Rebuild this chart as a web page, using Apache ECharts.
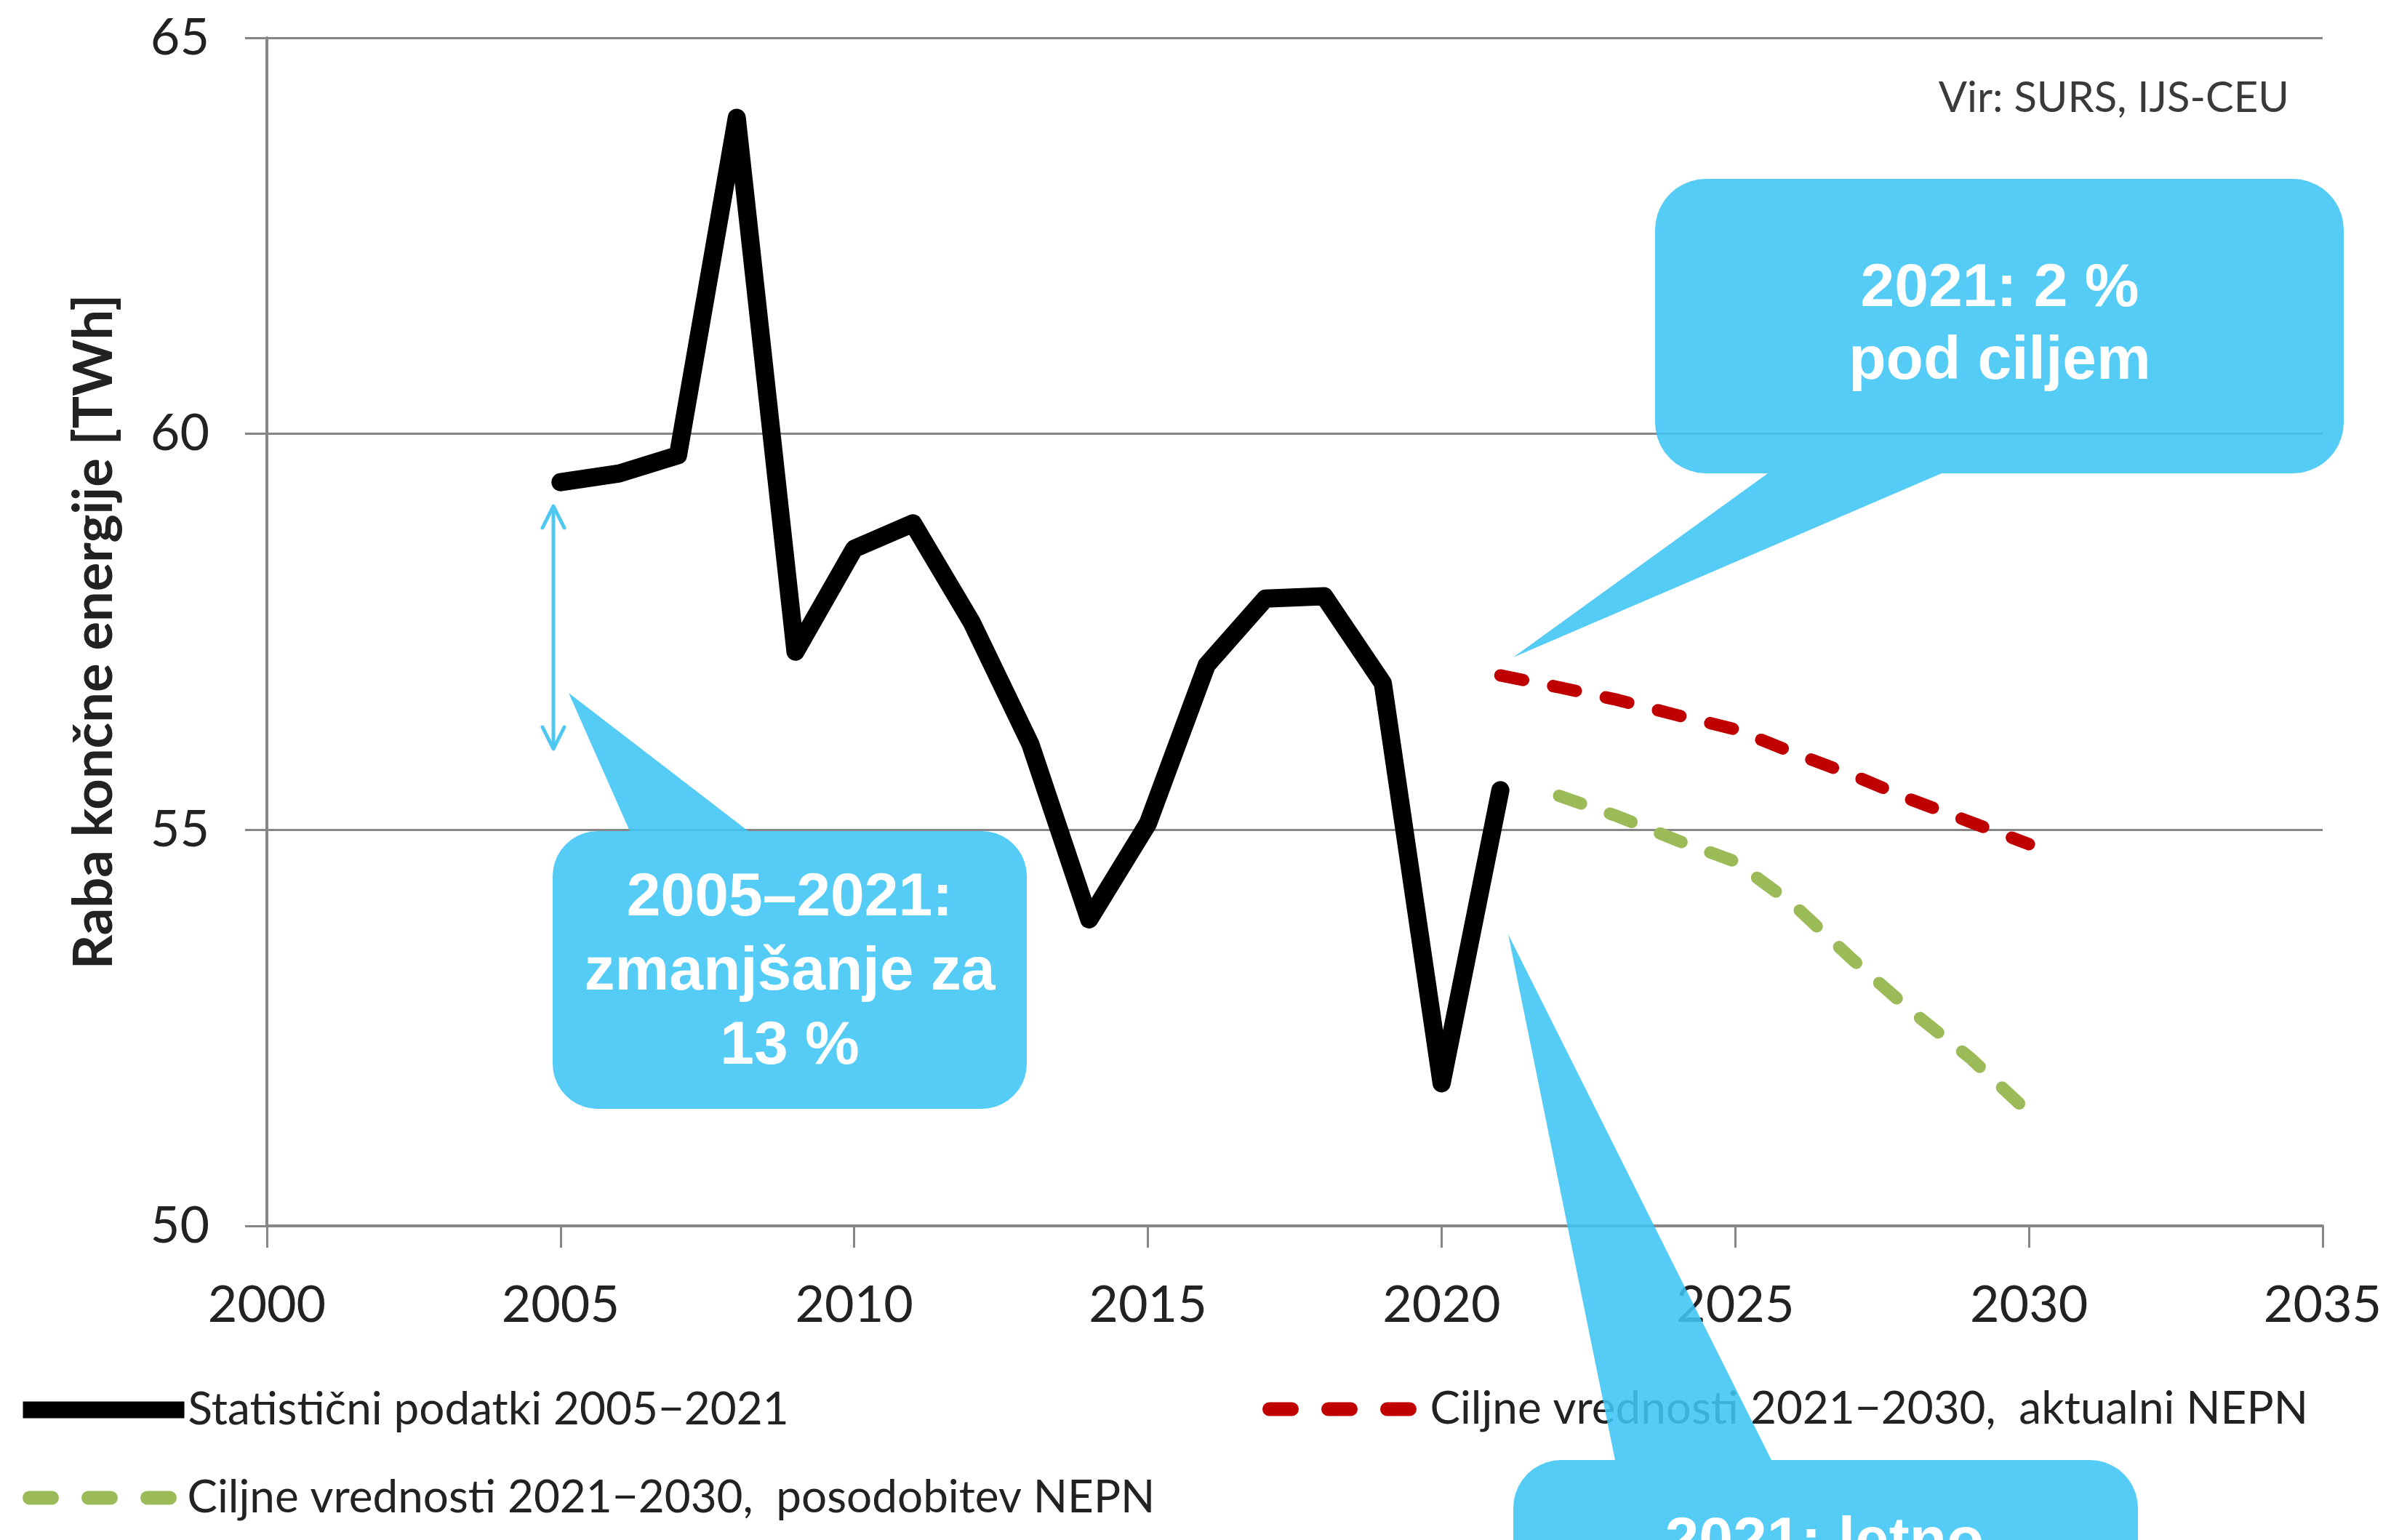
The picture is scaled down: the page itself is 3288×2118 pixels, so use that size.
<!DOCTYPE html>
<html>
<head>
<meta charset="utf-8">
<script src="https://cdn.jsdelivr.net/npm/echarts@6/dist/echarts.min.js"></script>
<style>
html,body{margin:0;padding:0;background:#ffffff;}
#chart{width:3288px;height:2118px;}
</style>
</head>
<body>
<div id="chart"></div>
<script>
// ---------- data ----------
const seriesNames = [
  'Statistični podatki 2005−2021',
  'Ciljne vrednosti 2021−2030,  aktualni NEPN',
  'Ciljne vrednosti 2021−2030,  posodobitev NEPN'
];
const statYears  = [2005,2006,2007,2008,2009,2010,2011,2012,2013,2014,2015,2016,2017,2018,2019,2020,2021];
const statValues = [59.39,59.50,59.73,63.99,57.25,58.55,58.87,57.62,56.08,53.87,55.08,57.08,57.92,57.95,56.85,51.80,55.50];
const aktYears   = [2021,2022,2023,2024,2025,2026,2027,2028,2029,2030];
const aktValues  = [56.95,56.80,56.64,56.45,56.27,55.97,55.69,55.38,55.10,54.82];
const posYears   = [2022,2023,2024,2025,2026,2027,2028,2029,2030];
const posValues  = [55.43,55.17,54.87,54.60,54.05,53.36,52.71,52.12,51.43];
const xTickLabels = ['2000','2005','2010','2015','2020','2025','2030','2035'];
const yTickLabels = ['50','55','60','65'];
const yAxisName = 'Raba končne energije [TWh]';
const sourceText = 'Vir: SURS, IJS-CEU';
const calloutTexts = ['2021: 2 %\npod ciljem', '2005–2021:\nzmanjšanje za\n13 %', '2021: letno'];

// ---------- helpers ----------
const pairs = (xs, vs) => xs.map((x, i) => [x, vs[i]]);
const xMin = +xTickLabels[0], xMax = +xTickLabels[xTickLabels.length - 1];
const xStep = +xTickLabels[1] - +xTickLabels[0];
const yMin = +yTickLabels[0], yMax = +yTickLabels[yTickLabels.length - 1];
const yStep = +yTickLabels[1] - +yTickLabels[0];

function calloutPoints(x0, y0, x1, y1, r, side, b0, b1, tx, ty) {
  const pts = [];
  const arc = (cx, cy, a0, a1) => {
    for (let i = 0; i <= 10; i++) {
      const a = a0 + (a1 - a0) * i / 10;
      pts.push([cx + r * Math.cos(a), cy + r * Math.sin(a)]);
    }
  };
  arc(x0 + r, y0 + r, Math.PI, 1.5 * Math.PI);
  if (side === 'top') pts.push([b0, y0], [tx, ty], [b1, y0]);
  arc(x1 - r, y0 + r, 1.5 * Math.PI, 2 * Math.PI);
  arc(x1 - r, y1 - r, 0, 0.5 * Math.PI);
  if (side === 'bottom') pts.push([b1, y1], [tx, ty], [b0, y1]);
  arc(x0 + r, y1 - r, 0.5 * Math.PI, Math.PI);
  return pts;
}

const GREY = '#878787';
const FONT = 'Lato';
const CALLOUT_FILL = 'rgba(62,197,244,0.88)';
const CALLOUT_FONT = 'bold 84px "Liberation Sans", Arial, sans-serif';
const ARROW = '#4EC8F0';

const chart = echarts.init(document.getElementById('chart'), null, {renderer: 'canvas'});

const legendText = {fontFamily: FONT, fontSize: 62, color: '#222', lineHeight: 72};

chart.setOption({
  animation: false,
  backgroundColor: '#ffffff',
  grid: {left: 367, right: 94, top: 52, bottom: 432, containLabel: false},
  xAxis: {
    type: 'value', min: xMin, max: xMax, interval: xStep,
    axisLine: {show: true, onZero: false, lineStyle: {color: GREY, width: 4}},
    axisTick: {show: true, length: 30, lineStyle: {color: GREY, width: 3}},
    axisLabel: {margin: 74, fontFamily: FONT, fontSize: 70, color: '#222',
                formatter: v => String(v), showMinLabel: true, showMaxLabel: true},
    splitLine: {show: false}
  },
  yAxis: {
    type: 'value', min: yMin, max: yMax, interval: yStep,
    name: yAxisName, nameLocation: 'middle', nameRotate: 90, nameGap: 200,
    nameTextStyle: {fontFamily: FONT, fontWeight: 'bold', fontSize: 74, color: '#222'},
    axisLine: {show: true, lineStyle: {color: GREY, width: 4}},
    axisTick: {show: true, length: 30, lineStyle: {color: GREY, width: 3}},
    axisLabel: {margin: 79, fontFamily: FONT, fontSize: 70, color: '#222', formatter: v => String(v)},
    splitLine: {show: true, lineStyle: {color: GREY, width: 3}}
  },
  legend: [
    {left: 20, top: 1903, padding: 0, itemWidth: 222, itemHeight: 72, selectedMode: false,
     textStyle: legendText,
     data: [{name: seriesNames[0], itemStyle: {opacity: 0},
             lineStyle: {color: '#000', width: 23, type: 'solid', cap: 'butt'}}]},
    {left: 1736, top: 1902, padding: 0, itemWidth: 216, itemHeight: 72, selectedMode: false,
     textStyle: legendText,
     data: [{name: seriesNames[1], itemStyle: {opacity: 0},
             lineStyle: {color: '#C00000', width: 19, type: [31, 50], cap: 'round'}}]},
    {left: 31, top: 2024, padding: 0, itemWidth: 212, itemHeight: 72, selectedMode: false,
     textStyle: legendText,
     data: [{name: seriesNames[2], itemStyle: {opacity: 0},
             lineStyle: {color: '#9BBB59', width: 19, type: [31, 50], cap: 'round'}}]}
  ],
  series: [
    {name: seriesNames[0], type: 'line', data: pairs(statYears, statValues),
     symbol: 'none', z: 3,
     lineStyle: {color: '#000000', width: 25, cap: 'round', join: 'round'}},
    {name: seriesNames[1], type: 'line', data: pairs(aktYears, aktValues),
     symbol: 'none', z: 2,
     lineStyle: {color: '#C00000', width: 17, type: [32, 42], cap: 'round', join: 'round'}},
    {name: seriesNames[2], type: 'line', data: pairs(posYears, posValues),
     symbol: 'none', z: 2,
     lineStyle: {color: '#9BBB59', width: 17, type: [32, 42], cap: 'round', join: 'round'}}
  ],
  graphic: [
    {type: 'text', z: 50,
     style: {text: sourceText, x: 3148, y: 135, align: 'right', verticalAlign: 'middle',
             font: '58px Lato', fill: '#3a3a3a'}},
    // double-headed arrow
    {type: 'polyline', z: 60, shape: {points: [[761, 698], [761, 1028]]},
     style: {stroke: ARROW, lineWidth: 5, fill: null}},
    {type: 'polyline', z: 60, shape: {points: [[746, 726], [761, 696], [776, 726]]},
     style: {stroke: ARROW, lineWidth: 5, fill: null, lineCap: 'round', lineJoin: 'round'}},
    {type: 'polyline', z: 60, shape: {points: [[746, 1000], [761, 1030], [776, 1000]]},
     style: {stroke: ARROW, lineWidth: 5, fill: null, lineCap: 'round', lineJoin: 'round'}},
    // callouts
    {type: 'polygon', z: 70,
     shape: {points: calloutPoints(2276, 246, 3223, 651, 70, 'bottom', 2431, 2670, 2081, 904)},
     style: {fill: CALLOUT_FILL}},
    {type: 'text', z: 71,
     style: {text: calloutTexts[0], x: 2750, y: 448, align: 'center', verticalAlign: 'middle',
             font: CALLOUT_FONT, lineHeight: 100, fill: '#ffffff'}},
    {type: 'polygon', z: 70,
     shape: {points: calloutPoints(760, 1143, 1412, 1525, 62, 'top', 866, 1029, 782, 953)},
     style: {fill: CALLOUT_FILL}},
    {type: 'text', z: 71,
     style: {text: calloutTexts[1], x: 1086, y: 1338, align: 'center', verticalAlign: 'middle',
             font: CALLOUT_FONT, lineHeight: 102, fill: '#ffffff'}},
    {type: 'polygon', z: 70,
     shape: {points: calloutPoints(2081, 2008, 2940, 2400, 66, 'top', 2221, 2436, 2074, 1285)},
     style: {fill: CALLOUT_FILL}},
    {type: 'text', z: 71,
     style: {text: calloutTexts[2], x: 2509, y: 2122, align: 'center', verticalAlign: 'middle',
             font: CALLOUT_FONT, fill: '#ffffff'}}
  ]
});
</script>
</body>
</html>
